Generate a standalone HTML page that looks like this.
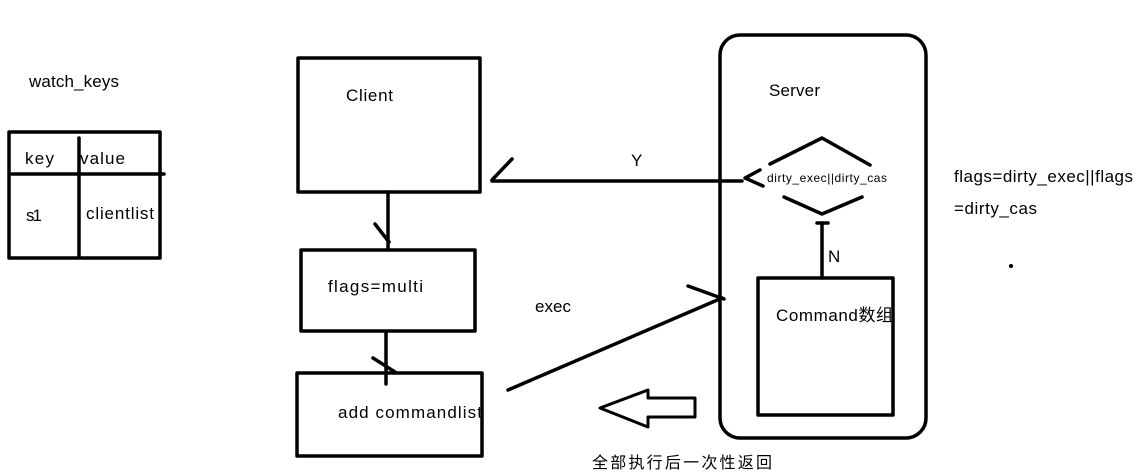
<!DOCTYPE html>
<html><head><meta charset="utf-8"><style>
html,body{margin:0;padding:0;background:#fff;}
svg{display:block}
text{font-family:"Liberation Sans","Noto Sans CJK SC",sans-serif;fill:#000}
</style></head><body>
<svg width="1143" height="475" viewBox="0 0 1143 475" xmlns="http://www.w3.org/2000/svg">
<g fill="none" stroke="#000" stroke-width="3.5" stroke-linecap="round" stroke-linejoin="round">
<rect x="9" y="132" width="151" height="126"/>
<line x1="12" y1="174" x2="164" y2="174"/>
<line x1="79" y1="138" x2="79" y2="256"/>
<rect x="298" y="58" width="182" height="134"/>
<line x1="388" y1="192" x2="388" y2="248"/>
<line x1="375" y1="224" x2="389" y2="242"/>
<rect x="301" y="250" width="174" height="81"/>
<line x1="386" y1="332" x2="386" y2="384"/>
<line x1="373" y1="358" x2="395" y2="372"/>
<rect x="297" y="373" width="185" height="83"/>
<line x1="508" y1="390" x2="722" y2="298"/>
<line x1="688" y1="286" x2="724" y2="299"/>
<rect x="720" y="35" width="206" height="403" rx="20"/>
<line x1="492" y1="181" x2="742" y2="181"/>
<line x1="492" y1="180" x2="512" y2="159"/>
<polyline points="770,164 822,138 870,165"/>
<polyline points="760,170 745,178 763,186"/>
<polyline points="784,197 822,214 862,197"/>
<line x1="822" y1="223" x2="822" y2="278"/>
<line x1="817" y1="223" x2="828" y2="223"/>
<rect x="758" y="278" width="135" height="137"/>
<polygon points="600,408 648,390 648,398 695,398 695,417 648,417 648,427" stroke-width="3"/>
</g>
<circle cx="1011" cy="266" r="2" fill="#000"/>
<text x="29" y="87" font-size="17" textLength="90">watch_keys</text>
<text x="25" y="164" font-size="17" textLength="29">key</text>
<text x="80" y="164" font-size="17" textLength="45">value</text>
<text x="26" y="221" font-size="17" textLength="16">s1</text>
<text x="86" y="219" font-size="17" textLength="68">clientlist</text>
<text x="346" y="101" font-size="17" textLength="47">Client</text>
<text x="328" y="292" font-size="17" textLength="95">flags=multi</text>
<text x="338" y="418" font-size="17" textLength="144">add commandlist</text>
<text x="535" y="312" font-size="17" textLength="36">exec</text>
<text x="631" y="166" font-size="17">Y</text>
<text x="769" y="96" font-size="17" textLength="51">Server</text>
<text x="767" y="182" font-size="12" textLength="120">dirty_exec||dirty_cas</text>
<text x="828" y="262" font-size="17">N</text>
<text x="776" y="321" font-size="17" textLength="117">Command数组</text>
<text x="954" y="182" font-size="17" textLength="179">flags=dirty_exec||flags</text>
<text x="954" y="214" font-size="17" textLength="83">=dirty_cas</text>
<text x="592" y="468" font-size="16" textLength="180">全部执行后一次性返回</text>
</svg>
</body></html>
